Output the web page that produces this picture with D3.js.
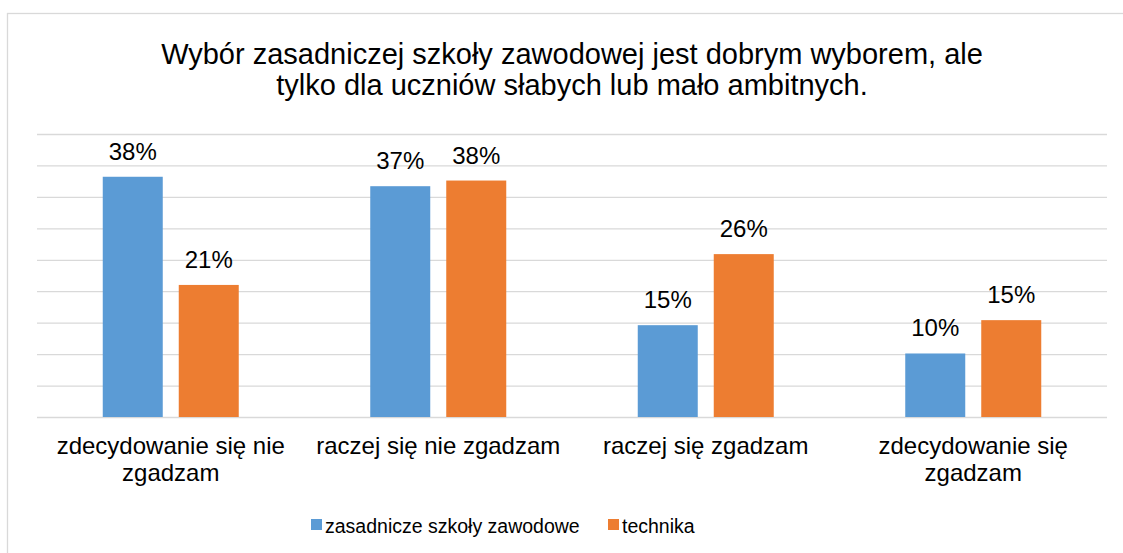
<!DOCTYPE html>
<html>
<head>
<meta charset="utf-8">
<script src="https://cdn.jsdelivr.net/npm/d3@7"></script>
<style>
	body { margin: 0; background: #fff; }
	svg { display: block; font-family: 'Liberation Sans', Arial, sans-serif; }
</style>
</head>
<body>
<div id="chart"></div>
<script>
// data (bar heights, labels are rounded)
const categories = [ 'zdecydowanie się nie zgadzam', 'raczej się nie zgadzam', 'raczej się zgadzam', 'zdecydowanie się zgadzam' ];
const seriesNames = [ 'zasadnicze szkoły zawodowe', 'technika' ];
const zszValues = [ 38.2, 36.7, 14.6, 10.1 ];
const technikaValues = [ 21.0, 37.6, 25.9, 15.4 ];
const seriesColors = [ '#5B9BD5', '#ED7D31' ];
const titleLines = [ 'Wybór zasadniczej szkoły zawodowej jest dobrym wyborem, ale', 'tylko dla uczniów słabych lub mało ambitnych.' ];
const gridTicks = [ 0, 5, 10, 15, 20, 25, 30, 35, 40, 45 ];

const width = 1123,
	height = 553;
const plot = { left: 37, right: 1107, top: 134, bottom: 417 };
const fmt = d3.format('.0f');

const svg = d3.select('#chart').append('svg').attr('width', width).attr('height', height);

// chart border
svg
	.append('rect')
	.attr('x', 7.5)
	.attr('y', 13.5)
	.attr('width', 1130)
	.attr('height', 560)
	.attr('fill', '#fff')
	.attr('stroke', '#d9d9d9')
	.attr('stroke-width', 1.3);

// title
svg
	.append('g')
	.selectAll('text')
	.data(titleLines)
	.join('text')
	.attr('x', (plot.left + plot.right) / 2)
	.attr('y', (d, i) => 64 + i * 31)
	.attr('text-anchor', 'middle')
	.attr('font-size', '29px')
	.attr('fill', '#000')
	.text((d) => d);

const rows = categories.map((c, i) => ({ cat: c, values: [ zszValues[i], technikaValues[i] ] }));

const x0 = d3.scaleBand().domain(categories).range([ plot.left, plot.right ]).padding(0);
const x1 = d3
	.scaleBand()
	.domain(seriesNames)
	.range([ 65.75, x0.bandwidth() - 65.75 ])
	.paddingInner(16 / 76)
	.paddingOuter(0);
const y = d3.scaleLinear().domain([ 0, 45 ]).range([ plot.bottom, plot.top ]);

// gridlines
const grid = svg
	.append('g')
	.attr('transform', `translate(${plot.left},0)`)
	.call(d3.axisLeft(y).tickValues(gridTicks).tickSize(-(plot.right - plot.left)).tickFormat(''));
grid.select('.domain').remove();
grid.selectAll('line').attr('stroke', '#d9d9d9').attr('stroke-width', 1.3);

// bars
const groups = svg
	.append('g')
	.selectAll('g')
	.data(rows)
	.join('g')
	.attr('transform', (d) => `translate(${x0(d.cat)},0)`);

groups
	.selectAll('rect')
	.data((d) => d.values.map((v, j) => ({ key: seriesNames[j], value: v, j: j })))
	.join('rect')
	.attr('x', (d) => x1(d.key))
	.attr('width', x1.bandwidth())
	.attr('y', (d) => y(d.value))
	.attr('height', (d) => y(0) - y(d.value))
	.attr('fill', (d) => seriesColors[d.j]);

// data labels
groups
	.selectAll('text')
	.data((d) => d.values.map((v, j) => ({ key: seriesNames[j], value: v })))
	.join('text')
	.attr('x', (d) => x1(d.key) + x1.bandwidth() / 2)
	.attr('y', (d) => y(d.value) - 17)
	.attr('text-anchor', 'middle')
	.attr('font-size', '24px')
	.attr('fill', '#000')
	.text((d) => fmt(d.value) + '%');

// category labels (wrapped)
svg
	.append('g')
	.selectAll('text')
	.data(categories)
	.join('text')
	.attr('x', (d) => x0(d) + x0.bandwidth() / 2)
	.attr('y', 454)
	.attr('text-anchor', 'middle')
	.attr('font-size', '24px')
	.attr('fill', '#000')
	.each(function(d) {
		wrap(d3.select(this), d, 250, 27);
	});

function wrap(text, str, maxWidth, lineHeight) {
	const words = str.split(' ');
	const xPos = text.attr('x');
	let line = [];
	let tspan = text.append('tspan').attr('x', xPos).attr('dy', 0);
	words.forEach((w) => {
		line.push(w);
		tspan.text(line.join(' '));
		if (tspan.node().getComputedTextLength() > maxWidth && line.length > 1) {
			line.pop();
			tspan.text(line.join(' '));
			line = [ w ];
			tspan = text.append('tspan').attr('x', xPos).attr('dy', lineHeight).text(w);
		}
	});
}

// legend
const legend = svg.append('g').attr('font-size', '19.5px');
const legendX = [ 311, 608 ];
seriesNames.forEach((name, i) => {
	const item = legend.append('g').attr('transform', `translate(${legendX[i]},0)`);
	item.append('rect').attr('x', 0).attr('y', 519).attr('width', 11).attr('height', 11).attr('fill', seriesColors[i]);
	item.append('text').attr('x', 14).attr('y', 533).attr('fill', '#000').text(name);
});
</script>
</body>
</html>
